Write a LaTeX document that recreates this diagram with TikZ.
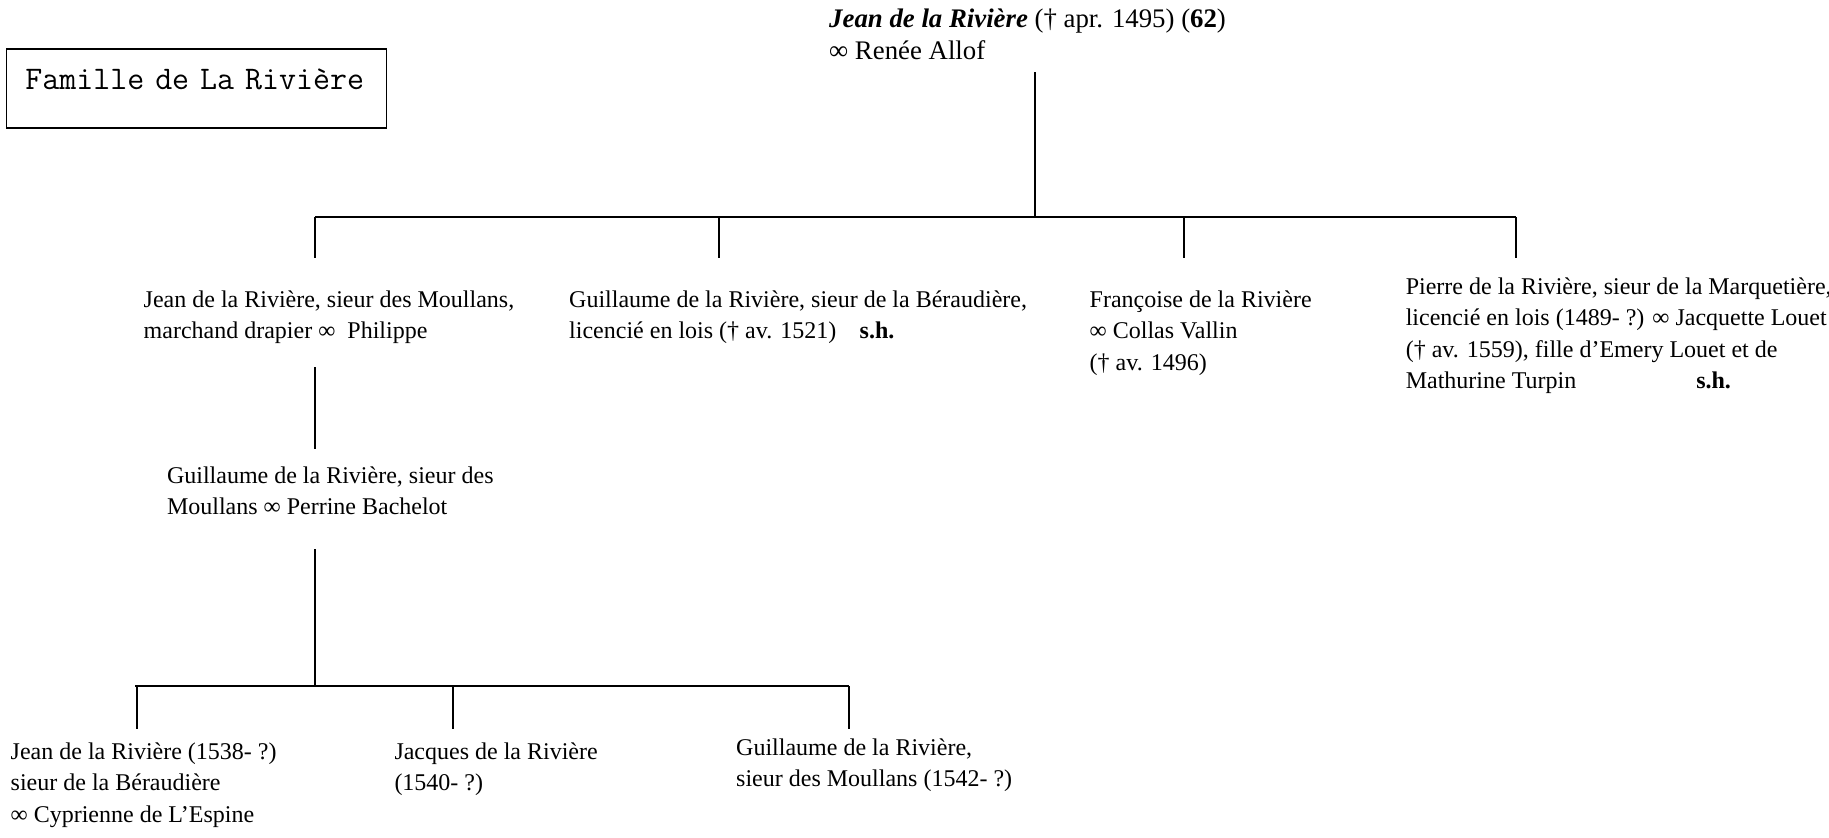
\documentclass[tikz,border=0pt]{standalone}
\usepackage{fontspec}
\setmainfont{Liberation Serif}
\begin{document}
\begin{tikzpicture}[x=1pt,y=-1pt,
  person/.style={font=\fontsize{24}{31.5}\selectfont, align=left, inner sep=0pt, anchor=north west},
  link/.style={line width=2pt},
  titlebox/.style={draw, line width=1.6pt, anchor=north west, font=\ttfamily\fontsize{33}{36}\selectfont,
    text width=342pt, align=left, inner xsep=19pt, inner ysep=0pt, text height=10pt, text depth=8pt,
    minimum height=79pt}]
\useasboundingbox (0,0) rectangle (1829,838);

\node[titlebox] (title) at (5.5,48) {Famille de La Rivière};

\node[person, font=\fontsize{26.8}{32.7}\selectfont] (top) at (829,4.1) {\strut\textbf{\textit{Jean de la Rivière}} († apr. 1495) (\textbf{62})\\ ∞ Renée Allof};

\node[person] (c1) at (143.5,285) {\strut Jean de la Rivière, sieur des Moullans,\\ marchand drapier ∞~ Philippe};
\node[person] (c2) at (569,285) {\strut Guillaume de la Rivière, sieur de la Béraudière,\\ \makebox[290.5pt][l]{licencié en lois († av. 1521)}\textbf{s.h.}};
\node[person] (c3) at (1089.5,285) {\strut Françoise de la Rivière\\ ∞ Collas Vallin\\ († av. 1496)};
\node[person] (c4) at (1405.6,272) {\strut Pierre de la Rivière, sieur de la Marquetière,\\ licencié en lois (1489- ?) ∞ Jacquette Louet\\ († av. 1559), fille d’Emery Louet et de\\ \makebox[290.5pt][l]{Mathurine Turpin}\textbf{s.h.}};

\node[person] (g1) at (166.8,461) {\strut Guillaume de la Rivière, sieur des\\ Moullans ∞ Perrine Bachelot};

\node[person] (gg1) at (10.5,737) {\strut Jean de la Rivière (1538- ?)\\ sieur de la Béraudière\\ ∞ Cyprienne de L’Espine};
\node[person] (gg2) at (394.3,737) {\strut Jacques de la Rivière\\ (1540- ?)};
\node[person] (gg3) at (736,733) {\strut Guillaume de la Rivière,\\ sieur des Moullans (1542- ?)};

% first generation
\coordinate (t0) at (1034.6,72.3);
\coordinate (t1) at (1034.6,217);
\coordinate (bl) at (315,217);
\coordinate (br) at (1516,217);
\coordinate (d1) at (315,258);
\coordinate (d2a) at (718.5,217);
\coordinate (d2) at (718.5,258);
\coordinate (d3a) at (1184,217);
\coordinate (d3) at (1184,258);
\coordinate (d4) at (1516,258);
\draw[link] (t0) -- (t1);
\draw[link] (bl) -- (br);
\draw[link] (bl) -- (d1);
\draw[link] (d2a) -- (d2);
\draw[link] (d3a) -- (d3);
\draw[link] (br) -- (d4);

% second generation
\coordinate (e0) at (315,367.4);
\coordinate (e1) at (315,449);
\draw[link] (e0) -- (e1);

% third generation
\coordinate (f0) at (315,549.4);
\coordinate (f1) at (315,686);
\coordinate (fl) at (135,686);
\coordinate (fr) at (849,686);
\coordinate (h1a) at (136.5,686);
\coordinate (h1) at (136.5,729);
\coordinate (h2a) at (452.6,686);
\coordinate (h2) at (452.6,729);
\coordinate (h3) at (849,729);
\draw[link] (f0) -- (f1);
\draw[link] (fl) -- (fr);
\draw[link] (h1a) -- (h1);
\draw[link] (h2a) -- (h2);
\draw[link] (fr) -- (h3);
\end{tikzpicture}
\end{document}
